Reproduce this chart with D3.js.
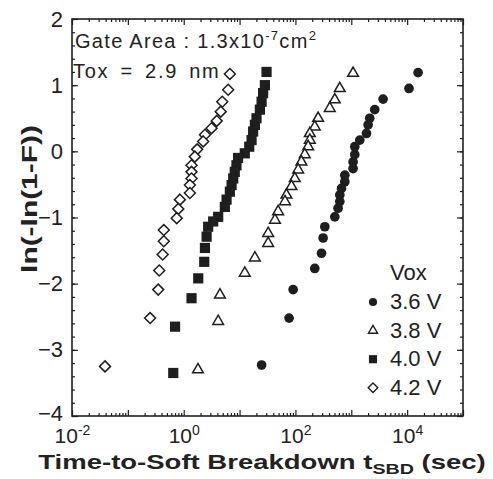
<!DOCTYPE html>
<html>
<head>
<meta charset="utf-8">
<script src="https://cdn.jsdelivr.net/npm/d3@7"></script>
<style>
  body { margin: 0; background: #fff; }
  text { font-family: "Liberation Sans", Arial, Helvetica, sans-serif; fill: #222; }
</style>
</head>
<body>
<div id="chart"></div>
<script>
// breakdown times (sec) and ln(-ln(1-F)), one pair of arrays per Vox
const t_42 = [6.7, 6.25, 4.9, 4.6, 3.9, 3.15, 2.4, 2.23, 1.74, 1.58, 1.38, 1.38, 1.38, 1.29, 1.29, 0.855, 0.80, 0.75, 0.44, 0.44, 0.42, 0.365, 0.35, 0.25, 0.039];
const w_42 = [1.17, 0.93, 0.75, 0.60, 0.46, 0.35, 0.25, 0.15, 0.03, -0.08, -0.21, -0.31, -0.41, -0.51, -0.63, -0.73, -0.87, -1.01, -1.19, -1.36, -1.56, -1.80, -2.09, -2.52, -3.25];

const t_40 = [30.4, 28.4, 26.4, 24.8, 23.1, 20.1, 18.8, 17.5, 16.4, 14.9, 12.4, 9.4, 8.8, 8.2, 7.7, 7.2, 6.7, 5.85, 5.45, 4.14, 3.37, 2.74, 2.57, 2.4, 2.33, 1.82, 1.38, 0.70, 0.65];
const w_40 = [1.20, 1.00, 0.88, 0.75, 0.63, 0.50, 0.40, 0.30, 0.17, 0.07, -0.03, -0.10, -0.21, -0.31, -0.41, -0.51, -0.61, -0.73, -0.84, -0.99, -1.06, -1.14, -1.29, -1.46, -1.67, -1.92, -2.22, -2.65, -3.35];

const t_38 = [1077, 622, 507, 412, 255, 222, 181, 181, 169, 147, 128, 112, 97.5, 85, 69, 65, 49, 43, 32.5, 32.5, 18.8, 12.4, 4.45, 4.14, 1.8];
const w_38 = [1.18, 0.95, 0.78, 0.65, 0.50, 0.37, 0.27, 0.17, 0.07, -0.05, -0.16, -0.28, -0.41, -0.53, -0.66, -0.76, -0.91, -1.04, -1.24, -1.39, -1.61, -1.84, -2.17, -2.57, -3.30];

const t_36 = [15700, 10800, 3710, 2630, 2140, 2000, 1870, 1420, 1155, 1155, 1077, 1077, 766, 766, 668, 623, 623, 580, 507, 336, 313, 293, 222, 91, 77, 24.8];
const w_36 = [1.19, 0.95, 0.79, 0.63, 0.50, 0.40, 0.27, 0.17, 0.07, -0.05, -0.16, -0.26, -0.36, -0.46, -0.56, -0.66, -0.76, -0.86, -0.99, -1.14, -1.31, -1.54, -1.77, -2.09, -2.52, -3.23];

const vox_labels = ["3.6 V", "3.8 V", "4.0 V", "4.2 V"];
const x_decades = [1e-2, 1e-1, 1e0, 1e1, 1e2, 1e3, 1e4, 1e5];
const x_labelled = [1e-2, 1e0, 1e2, 1e4];
const y_labelled = [-4, -3, -2, -1, 0, 1, 2];

const width = 493, height = 479;
const ink = "#1e1e1e";

const x = d3.scaleLog().domain([1e-2, 1e5]).range([72, 463]);
const y = d3.scaleLinear().domain([-4, 2]).range([416, 19]);

const svg = d3.select("#chart")
  .append("svg")
    .attr("width", width)
    .attr("height", height);

// diamond drawn as a square turned 45 degrees
const diamond = {
  draw(ctx, size) {
    const r = Math.sqrt(size / 2);
    ctx.moveTo(0, -r); ctx.lineTo(r, 0); ctx.lineTo(0, r); ctx.lineTo(-r, 0); ctx.closePath();
  }
};

const styles = [
  { type: d3.symbolCircle, size: 74, fill: ink, stroke: "none" },
  { type: d3.symbolTriangle, size: 50, fill: "#fff", stroke: ink },
  { type: d3.symbolSquare, size: 104, fill: ink, stroke: "none" },
  { type: diamond, size: 60, fill: "#fff", stroke: ink }
];

const series = [
  { t: t_36, w: w_36 },
  { t: t_38, w: w_38 },
  { t: t_40, w: w_40 },
  { t: t_42, w: w_42 }
];

// minor tick values
let x_minor = [];
x_decades.slice(0, -1).forEach(d => { for (let k = 2; k < 10; k++) x_minor.push(d * k); });
const y_minor = d3.range(-40, 21, 2).map(d => d / 10);

const axes = svg.append("g").attr("class", "axes");
const tickStyle = g => {
  g.select(".domain").remove();
  g.selectAll(".tick line").attr("stroke", ink).attr("stroke-width", 1.2);
};

// bottom
axes.append("g").attr("transform", "translate(0,416)")
  .call(d3.axisBottom(x).tickValues(x_minor).tickSize(-3).tickFormat(""))
  .call(tickStyle);
const bottom = axes.append("g").attr("transform", "translate(0,416)")
  .call(d3.axisBottom(x).tickValues(x_decades).tickSize(-6).tickPadding(12).tickFormat(""))
  .call(tickStyle);
bottom.selectAll(".tick text")
  .filter(d => x_labelled.includes(d))
  .attr("font-size", 21)
  .attr("fill", ink)
  .attr("dy", "0.71em")
  .text("10")
  .append("tspan")
    .attr("dy", "-0.55em")
    .attr("font-size", 14)
    .text(d => Math.round(Math.log10(d)));

// top
axes.append("g").attr("transform", "translate(0,19)")
  .call(d3.axisTop(x).tickValues(x_minor).tickSize(-3).tickFormat(""))
  .call(tickStyle);
axes.append("g").attr("transform", "translate(0,19)")
  .call(d3.axisTop(x).tickValues(x_decades).tickSize(-6).tickFormat(""))
  .call(tickStyle);

// left
axes.append("g").attr("transform", "translate(72,0)")
  .call(d3.axisLeft(y).tickValues(y_minor).tickSize(-3).tickFormat(""))
  .call(tickStyle);
axes.append("g").attr("transform", "translate(72,0)")
  .call(d3.axisLeft(y).tickValues(y_labelled).tickSize(-6).tickPadding(9).tickFormat(d3.format("d")))
  .call(tickStyle)
  .call(g => g.selectAll(".tick text").attr("font-size", 22).attr("fill", ink))
  .call(g => g.selectAll(".tick").filter(d => d === -4).select("text").attr("dy", "0.2em"));

// right
axes.append("g").attr("transform", "translate(463,0)")
  .call(d3.axisRight(y).tickValues(y_minor).tickSize(-3).tickFormat(""))
  .call(tickStyle);
axes.append("g").attr("transform", "translate(463,0)")
  .call(d3.axisRight(y).tickValues(y_labelled).tickSize(-6).tickFormat(""))
  .call(tickStyle);

// frame
svg.append("rect")
  .attr("x", 72).attr("y", 19)
  .attr("width", 463 - 72).attr("height", 416 - 19)
  .attr("fill", "none").attr("stroke", ink).attr("stroke-width", 1.6);

// points
series.forEach((s, i) => {
  const st = styles[i];
  const sym = d3.symbol().type(st.type).size(st.size);
  svg.append("g").attr("class", "series-" + i)
    .selectAll("path")
    .data(s.t.map((t, j) => ({ t: t, w: s.w[j] })))
    .join("path")
      .attr("transform", d => `translate(${x(d.t)},${y(d.w)})`)
      .attr("d", sym)
      .attr("fill", st.fill)
      .attr("stroke", st.stroke)
      .attr("stroke-width", 1.5);
});

// annotation
svg.append("text")
  .attr("x", 75).attr("y", 48)
  .attr("font-size", 20)
  .attr("letter-spacing", 1.3)
  .call(t => {
    t.append("tspan").text("Gate Area : 1.3x10");
    t.append("tspan").attr("dy", -8).attr("font-size", 13).text("-7");
    t.append("tspan").attr("dy", 8).text("cm");
    t.append("tspan").attr("dy", -8).attr("font-size", 13).text("2");
  });
svg.append("text")
  .attr("x", 73).attr("y", 78)
  .attr("font-size", 20)
  .attr("word-spacing", 4)
  .attr("letter-spacing", 1.7)
  .text("Tox = 2.9 nm");

// legend
const legend = svg.append("g").attr("class", "legend");
legend.append("text")
  .attr("x", 390).attr("y", 280)
  .attr("font-size", 22)
  .text("Vox");
const legendSym = [
  { type: d3.symbolCircle, size: 52 },
  { type: d3.symbolTriangle, size: 36 },
  { type: d3.symbolSquare, size: 66 },
  { type: diamond, size: 46 }
];
vox_labels.forEach((lab, i) => {
  const yb = 309 + i * 28.6;
  legend.append("path")
    .attr("transform", `translate(373,${yb - 7})`)
    .attr("d", d3.symbol().type(legendSym[i].type).size(legendSym[i].size))
    .attr("fill", styles[i].fill)
    .attr("stroke", styles[i].stroke)
    .attr("stroke-width", 1.4);
  legend.append("text")
    .attr("x", 390).attr("y", yb)
    .attr("font-size", 22)
    .text(lab);
});

// axis titles
const xTitle = svg.append("text")
  .attr("font-size", 21)
  .attr("font-weight", "bold")
  .attr("text-anchor", "middle")
  .attr("transform", "translate(262,469) scale(1.31,1)");
xTitle.append("tspan").text("Time-to-Soft Breakdown t");
xTitle.append("tspan").attr("font-size", 15).attr("dy", 5).text("SBD");
xTitle.append("tspan").attr("dy", -5).text(" (sec)");

svg.append("text")
  .attr("font-size", 22)
  .attr("font-weight", "bold")
  .attr("text-anchor", "middle")
  .attr("transform", "translate(37,199) rotate(-90) scale(1.36,1)")
  .text("ln(-ln(1-F))");
</script>
</body>
</html>
